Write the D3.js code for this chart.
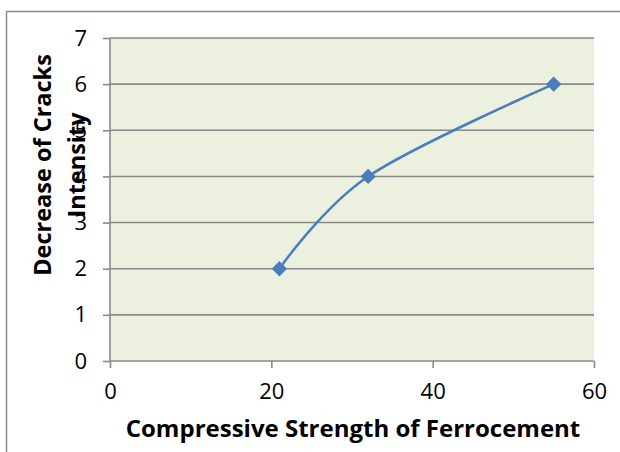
<!DOCTYPE html>
<html>
<head>
<meta charset="utf-8">
<script src="https://cdn.jsdelivr.net/npm/d3@7"></script>
<style>
  body { margin: 0; background: #fff; }
  svg text { font-family: "Open Sans", "Liberation Sans", sans-serif; fill: #000; }
</style>
</head>
<body>
<div id="chart"></div>
<script>
// data
var strength = [21, 32, 55];
var decrease = [2, 4, 6];
var xTicks = [0, 20, 40, 60];
var yTicks = [0, 1, 2, 3, 4, 5, 6, 7];

var width = 620, height = 452;
var plot = {left: 110, right: 594, top: 38, bottom: 361};

var svg = d3.select("#chart").append("svg")
    .attr("width", width)
    .attr("height", height);

// outer chart border (only top/left are visible in the frame)
svg.append("rect")
    .attr("x", 6.5).attr("y", 11.5)
    .attr("width", 640).attr("height", 460)
    .attr("fill", "none")
    .attr("stroke", "#8c8c8c")
    .attr("stroke-width", 1.5);

var x = d3.scaleLinear().domain([0, 60]).range([plot.left, plot.right]);
var y = d3.scaleLinear().domain([0, 7]).range([plot.bottom, plot.top]);

svg.append("rect")
    .attr("x", plot.left).attr("y", plot.top)
    .attr("width", plot.right - plot.left)
    .attr("height", plot.bottom - plot.top)
    .attr("fill", "#ebf0df");

// gridlines
svg.append("g").selectAll("line")
    .data(yTicks.slice(1))
    .enter().append("line")
    .attr("x1", plot.left).attr("x2", plot.right)
    .attr("y1", function(d) { return y(d); })
    .attr("y2", function(d) { return y(d); })
    .attr("stroke", "#8a8a8a")
    .attr("stroke-width", 1.6);

// y axis
var yAxis = svg.append("g")
    .attr("transform", "translate(" + plot.left + ",0)")
    .call(d3.axisLeft(y).tickValues(yTicks).tickFormat(d3.format("d"))
        .tickSize(7).tickPadding(16));
// x axis
var xAxis = svg.append("g")
    .attr("transform", "translate(0," + plot.bottom + ")")
    .call(d3.axisBottom(x).tickValues(xTicks).tickFormat(d3.format("d"))
        .tickSize(7).tickPadding(15));

[xAxis, yAxis].forEach(function(a) {
    a.attr("font-size", 22).attr("font-family", "'Open Sans', sans-serif");
    a.select(".domain").attr("stroke", "#8a8a8a").attr("stroke-width", 1.6);
    a.selectAll(".tick line").attr("stroke", "#8a8a8a").attr("stroke-width", 1.6);
    a.selectAll(".tick text").attr("fill", "#000");
});
xAxis.select(".domain").attr("d", "M" + plot.left + ",0H" + plot.right);
yAxis.select(".domain").attr("d", "M0," + plot.top + "V" + plot.bottom);

// smooth line like the spreadsheet's
var pts = strength.map(function(d, i) { return [d, decrease[i]]; });
var line = d3.line()
    .x(function(d) { return x(d[0]); })
    .y(function(d) { return y(d[1]); })
    .curve(d3.curveCardinal.tension(0));

svg.append("path")
    .datum(pts)
    .attr("d", line)
    .attr("fill", "none")
    .attr("stroke", "#4a7ebb")
    .attr("stroke-width", 2.5);

svg.append("g").selectAll("path")
    .data(pts)
    .enter().append("path")
    .attr("d", d3.symbol().type(d3.symbolDiamond2).size(150))
    .attr("transform", function(d) { return "translate(" + x(d[0]) + "," + y(d[1]) + ")"; })
    .attr("fill", "#4a7ebb");

// axis titles
svg.append("text")
    .attr("x", 353)
    .attr("y", 437)
    .attr("text-anchor", "middle")
    .attr("font-size", 24)
    .attr("font-weight", "bold")
    .text("Compressive Strength of Ferrocement");

var yt = svg.append("text")
    .attr("transform", "translate(51,165) rotate(-90)")
    .attr("text-anchor", "middle")
    .attr("font-size", 23.5)
    .attr("font-weight", "bold");
yt.append("tspan").attr("x", 0).attr("y", 0).text("Decrease of Cracks");
yt.append("tspan").attr("x", 0).attr("y", 34).text("Intensity");
</script>
</body>
</html>
